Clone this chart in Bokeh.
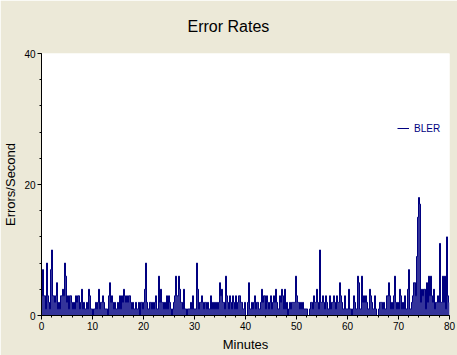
from bokeh.plotting import figure
from bokeh.models import Range1d, Legend, LegendItem, FixedTicker, Title
from bokeh.embed import file_html
from bokeh.resources import INLINE

# BLER errors per second, read per pixel column (0..80 minutes)
bler = [
    3, 7, 3, 3, 1, 8, 3, 2, 1, 7, 10, 3, 3, 2, 3, 5, 1, 2, 1, 3,
    3, 4, 3, 8, 6, 2, 3, 1, 3, 3, 2, 1, 2, 1, 3, 2, 3, 3, 1, 2,
    4, 1, 2, 1, 1, 2, 1, 4, 3, 1, 1, 0, 1, 1, 2, 1, 2, 4, 1, 2,
    2, 3, 2, 1, 1, 1, 0, 3, 5, 2, 3, 2, 1, 2, 1, 1, 2, 1, 3, 1,
    3, 2, 4, 3, 2, 3, 2, 3, 3, 2, 1, 2, 1, 1, 2, 1, 1, 2, 0, 2,
    2, 1, 2, 4, 8, 2, 1, 1, 2, 2, 1, 2, 1, 2, 3, 1, 1, 6, 2, 4,
    2, 2, 1, 2, 1, 3, 1, 3, 2, 1, 0, 1, 2, 3, 6, 3, 3, 6, 4, 2,
    2, 1, 4, 1, 1, 0, 1, 1, 1, 2, 1, 3, 1, 1, 1, 8, 4, 1, 2, 2,
    3, 2, 1, 2, 2, 1, 2, 1, 1, 3, 1, 2, 1, 2, 1, 2, 1, 2, 5, 3,
    4, 2, 2, 1, 6, 3, 2, 1, 3, 2, 1, 3, 2, 1, 3, 1, 2, 3, 3, 2,
    2, 1, 1, 2, 0, 0, 2, 5, 1, 1, 2, 1, 2, 3, 1, 2, 2, 1, 1, 2,
    4, 2, 3, 3, 1, 3, 2, 1, 2, 3, 1, 2, 3, 2, 4, 2, 1, 1, 3, 2,
    4, 3, 1, 4, 1, 2, 0, 1, 2, 1, 2, 2, 2, 2, 6, 3, 2, 2, 1, 2,
    1, 2, 1, 1, 1, 1, 0, 0, 1, 2, 2, 1, 3, 2, 2, 4, 2, 1, 10, 2,
    2, 3, 2, 1, 3, 2, 1, 1, 3, 1, 2, 2, 3, 2, 1, 3, 2, 2, 5, 3,
    2, 1, 1, 3, 1, 1, 1, 4, 1, 1, 0, 1, 3, 2, 1, 1, 6, 5, 1, 1,
    6, 2, 3, 2, 3, 2, 1, 1, 4, 3, 2, 1, 1, 3, 1, 0, 0, 1, 2, 2,
    2, 1, 2, 1, 1, 3, 3, 5, 3, 1, 2, 1, 3, 6, 2, 1, 2, 1, 4, 3,
    1, 2, 1, 3, 1, 1, 4, 7, 1, 1, 2, 3, 5, 5, 3, 9, 15, 18, 17, 2,
    4, 3, 4, 4, 1, 5, 2, 6, 3, 6, 3, 2, 4, 1, 2, 2, 3, 2, 11, 2,
    2, 6, 2, 6, 1, 12, 3, 2,
]
span_minutes = 80
step = span_minutes / len(bler)
minutes = [(i + 0.5) * step for i in range(len(bler))]

x_ticks = [0, 10, 20, 30, 40, 50, 60, 70, 80]
y_ticks = [0, 20, 40]

BG = "#ECE9D8"
NAVY = "#000080"
FONT = "Liberation Sans"

p = figure(width=457, height=355, output_backend="svg", toolbar_location=None,
           x_range=Range1d(0, 80), y_range=Range1d(0, 40),
           min_border_left=41, min_border_right=8, min_border_top=53,
           min_border_bottom=40)
p.background_fill_color = "white"
p.border_fill_color = BG
p.outline_line_color = None
p.grid.visible = False

p.title = Title(text="Error Rates", align="left", offset=146, standoff=34,
                vertical_align="top",
                text_font=FONT, text_font_size="16px",
                text_font_style="normal", text_color="black")

p.vbar(x=minutes, top=bler, bottom=0, width=step * 1.1, color=NAVY, line_width=0)
r = p.step(minutes, bler, mode="center", color=NAVY, line_width=1)

legend = Legend(items=[LegendItem(label="BLER", renderers=[r])],
                location=(356, 181), padding=0, margin=0,
                glyph_width=12, glyph_height=12, label_height=12,
                label_standoff=5, label_text_font=FONT,
                label_text_font_size="10px", label_text_color=NAVY,
                background_fill_alpha=0, border_line_alpha=0)
p.add_layout(legend)

for ax in (p.xaxis[0], p.yaxis[0]):
    ax.axis_line_color = "black"
    ax.major_tick_line_color = "black"
    ax.minor_tick_line_color = "black"
    ax.major_tick_out = 4
    ax.major_tick_in = 0
    ax.minor_tick_out = 2
    ax.minor_tick_in = 0
    ax.major_label_text_font = FONT
    ax.major_label_text_font_size = "10px"
    ax.major_label_text_color = "black"
    ax.axis_label_text_font = FONT
    ax.axis_label_text_font_size = "13px"
    ax.axis_label_text_font_style = "normal"
    ax.axis_label_text_color = "black"

p.xaxis[0].ticker = FixedTicker(ticks=x_ticks, minor_ticks=list(range(0, 81, 2)))
p.yaxis[0].ticker = FixedTicker(ticks=y_ticks, minor_ticks=list(range(0, 41, 4)))
p.xaxis[0].axis_label = "Minutes"
p.yaxis[0].axis_label = "Errors/Second"
p.xaxis[0].major_label_standoff = 2
p.yaxis[0].major_label_standoff = 2
p.xaxis[0].axis_label_standoff = 4
p.yaxis[0].axis_label_standoff = 3

open("out.html", "w").write(file_html(p, INLINE))
